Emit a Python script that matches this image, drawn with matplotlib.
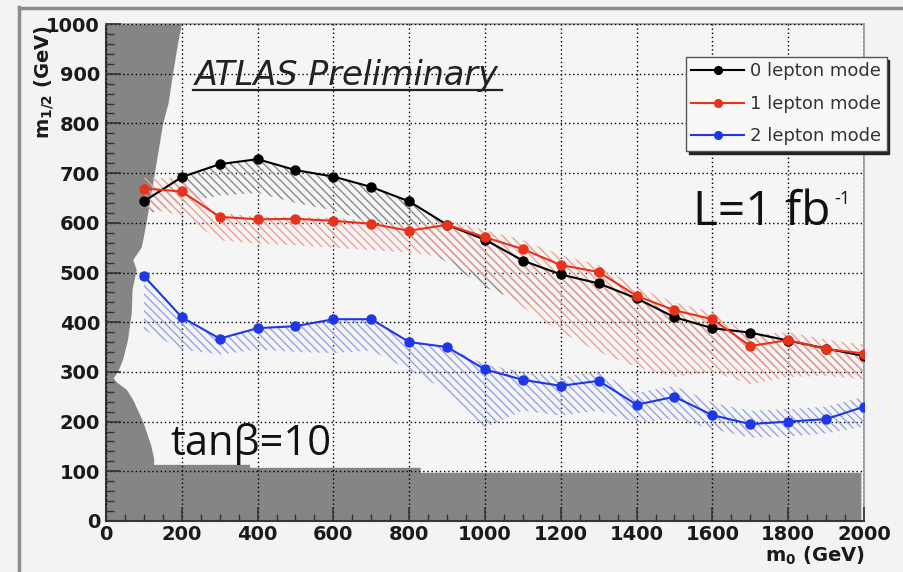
import matplotlib
matplotlib.use('Agg')
import matplotlib.pyplot as plt
from matplotlib.lines import Line2D
from matplotlib.ticker import MultipleLocator

# ─── data: 95% CL reach in the (m0, m1/2) plane, tanβ = 10 ───────────────────
m0 = [100, 200, 300, 400, 500, 600, 700, 800, 900, 1000,
      1100, 1200, 1300, 1400, 1500, 1600, 1700, 1800, 1900, 2000]

lep0 = [643, 692, 718, 728, 706, 693, 672, 643, 596, 566,
        524, 496, 478, 448, 410, 388, 379, 363, 347, 332]
lep1 = [669, 663, 612, 607, 608, 604, 598, 584, 596, 571,
        547, 515, 501, 453, 424, 406, 352, 364, 346, 337]
lep2 = [493, 410, 367, 388, 392, 406, 406, 360, 350, 305,
        284, 272, 282, 234, 250, 213, 195, 200, 205, 230]

# hatched uncertainty bands (upper / lower edge)
lep0_lo = [615, 640, 655, 660, 640, 625, 600, 570, 520, 470,
           440, 420, 400, 380, 350, 330, 315, 305, 298, 290]
lep1_hi = [690, 690, 620, 612, 612, 610, 605, 595, 605, 585,
           565, 535, 515, 470, 440, 420, 375, 380, 365, 355]
lep1_lo = [630, 615, 565, 558, 555, 550, 545, 540, 530, 490,
           430, 380, 340, 310, 290, 300, 275, 290, 292, 285]
lep2_hi = [493, 410, 367, 388, 392, 406, 406, 360, 350, 315,
           300, 290, 300, 258, 272, 238, 222, 225, 230, 250]
lep2_lo = [385, 345, 335, 345, 340, 338, 343, 304, 262, 188,
           222, 212, 222, 198, 205, 185, 168, 170, 176, 190]

# theoretically excluded region (grey)
excl_m0 = [0, 0, 200, 190, 177, 165, 151, 140, 129, 118, 107, 97, 94,
           72, 81, 70, 68, 58, 45, 32, 20, 30, 55, 72, 98, 120, 127,
           127, 380, 380, 830, 830, 1993, 1993]
excl_m12 = [0, 1000, 1000, 960, 900, 840, 800, 750, 700, 650, 600, 560, 550,
            525, 505, 465, 418, 364, 324, 300, 287, 278, 264, 243, 200, 150, 125,
            113, 113, 107, 107, 97, 97, 0]

C_BLACK = '#000000'
C_RED = '#e8321c'
C_BLUE = '#1e38e8'
HATCH = '\\\\\\\\'

plt.rcParams['hatch.linewidth'] = 1.0

fig = plt.figure(figsize=(9.04, 5.72), dpi=100)
fig.patch.set_facecolor('#f3f3f3')
ax = fig.add_axes([106/904, 1-521/572, (864-106)/904, (521-24)/572])
ax.set_facecolor('#f5f5f5')
ax.set_xlim(0, 2000)
ax.set_ylim(0, 1000)

ax.fill(excl_m0, excl_m12, color='#858585', lw=0, zorder=1)

# bands
ax.fill_between(m0, lep0_lo, lep0, facecolor='none', edgecolor='#8a8a8a',
                hatch=HATCH, lw=0, zorder=3)
ax.fill_between(m0, lep1_lo, lep1_hi, facecolor='none', edgecolor='#f2a093',
                hatch=HATCH, lw=0, zorder=3)
ax.fill_between(m0, lep2_lo, lep2_hi, facecolor='none', edgecolor='#97a4ea',
                hatch=HATCH, lw=0, zorder=3)

ax.plot(m0, lep0, '-o', color=C_BLACK, lw=1.5, ms=6.5, zorder=5, label='0 lepton mode')
ax.plot(m0, lep1, '-o', color=C_RED, lw=1.5, ms=6.5, zorder=5, label='1 lepton mode')
ax.plot(m0, lep2, '-o', color=C_BLUE, lw=1.5, ms=6.5, zorder=5, label='2 lepton mode')

# axes style
ax.set_axisbelow(False)
ax.grid(True, which='major', ls=(0, (1, 2)), color=(0, 0, 0, 0.15), lw=1)
ax.xaxis.set_major_locator(MultipleLocator(200))
ax.xaxis.set_minor_locator(MultipleLocator(50))
ax.yaxis.set_major_locator(MultipleLocator(100))
ax.yaxis.set_minor_locator(MultipleLocator(20))
ax.tick_params(which='both', direction='in', top=False, right=False, color='#333333')
ax.tick_params(axis='x', which='major', length=10, width=1.2, pad=3)
ax.tick_params(axis='x', which='minor', length=5, width=1)
ax.tick_params(axis='y', which='major', length=11, width=1.2, pad=4.3)
ax.tick_params(axis='y', which='minor', length=6, width=1)
for lab in ax.get_xticklabels() + ax.get_yticklabels():
    lab.set_fontweight('bold')
    lab.set_fontsize(14)
    lab.set_color('#1a1a1a')
for s in ['left', 'bottom']:
    ax.spines[s].set_color('#3a3a3a')
    ax.spines[s].set_linewidth(1.5)
for s in ['top', 'right']:
    ax.spines[s].set_color('#9a9a9a')
    ax.spines[s].set_linewidth(1.2)

# axis titles
fig.text(44/904, 1-25/572, r'm$_{\mathbf{1/2}}$ (GeV)', rotation=90, ha='center',
         va='top', fontsize=14, fontweight='bold', color='#1a1a1a')
fig.text(865/904, 1-562/572, r'm$_{\mathbf{0}}$ (GeV)', ha='right', va='baseline',
         fontsize=14, fontweight='bold', color='#1a1a1a')

# labels
fig.text(195/904, 1-85/572, 'ATLAS Preliminary', fontsize=24, style='italic',
         color='#222222', va='baseline', ha='left')
fig.add_artist(Line2D([193/904, 502/904], [1-90/572, 1-90/572], color='#222222', lw=1.6))
fig.text(693/904, 1-225/572, 'L=1 fb', fontsize=34.5, family='Open Sans',
         color='#111111', va='baseline', ha='left')
fig.text(834/904, 1-204/572, '-1', fontsize=13, family='Open Sans',
         color='#111111', va='baseline', ha='left')
fig.text(170/904, 1-455/572, 'tanβ=10', fontsize=30, family='Open Sans',
         color='#111111', va='baseline', ha='left')

# outer frame
fig.add_artist(Line2D([19/904, 19/904], [0, 1-7/572], color='#8c8c8c', lw=2.5))
fig.add_artist(Line2D([19/904, 1], [1-8/572, 1-8/572], color='#8c8c8c', lw=2.5))

leg = ax.legend(loc='upper left', bbox_to_anchor=(686/904, 1-57/572),
                bbox_transform=fig.transFigure, borderaxespad=0, fontsize=13,
                frameon=True, fancybox=False, shadow={'color': '#222222', 'alpha': 1},
                handlelength=2.9, handletextpad=0.35, borderpad=0.3,
                labelspacing=0.8, markerscale=0.85)
leg.get_frame().set_edgecolor('#555555')
leg.get_frame().set_facecolor('#f8f8f8')
leg.get_frame().set_linewidth(1.0)
for t in leg.get_texts():
    t.set_color('#333333')

plt.savefig('out.png', dpi=100, facecolor=fig.get_facecolor())
